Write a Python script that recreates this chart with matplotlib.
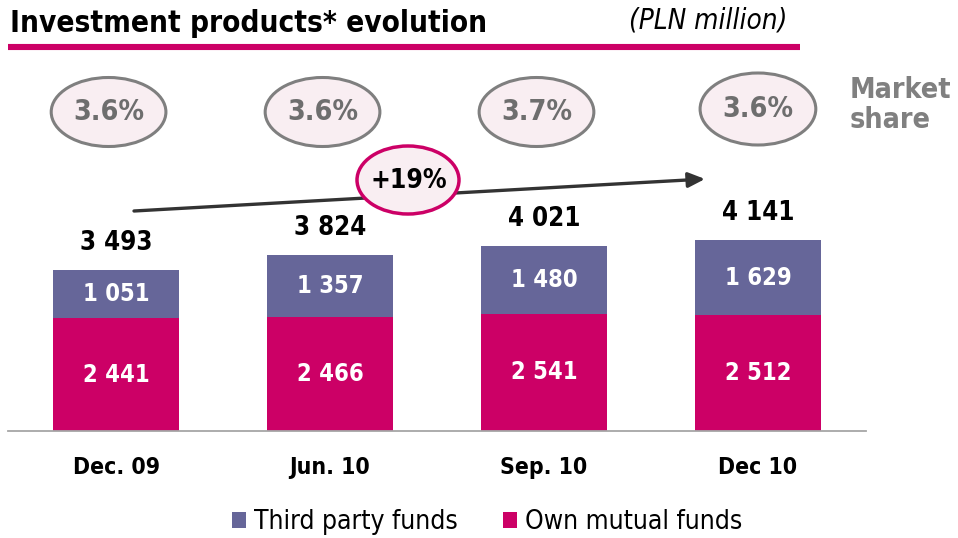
import numpy as np
import matplotlib.pyplot as plt
from matplotlib.patches import Ellipse
from matplotlib.transforms import blended_transform_factory

plt.rcParams['font.family'] = ['DejaVu Sans']
plt.rcParams['font.stretch'] = 'condensed'

# Data
categories = ['Dec. 09', 'Jun. 10', 'Sep. 10', 'Dec 10']
own_funds = [2441, 2466, 2541, 2512]
third_party = [1051, 1357, 1480, 1629]
totals = [3493, 3824, 4021, 4141]
market_share = ['3.6%', '3.6%', '3.7%', '3.6%']
growth_label = '+19%'

MAGENTA = '#CC0066'
PURPLE = '#666699'
GREY = '#7F7F7F'
PINK_FILL = '#F9EEF2'

W, H = 958, 538
fig = plt.figure(figsize=(W / 100, H / 100), dpi=100)

# Overlay axes in pixel units (origin top-left) for decorations
over = fig.add_axes([0, 0, 1, 1])
over.set_xlim(0, W)
over.set_ylim(H, 0)
over.axis('off')

# Bar axes
ax = fig.add_axes([8 / W, (H - 431) / H, (866 - 8) / W, (431 - 150) / H])
ax.set_xlim(-0.505, 3.505)
ax.set_ylim(0, 6095)
ax.patch.set_alpha(0)

x = np.arange(len(categories))
bw = 0.59
b_own = ax.bar(x, own_funds, bw, color=MAGENTA, label='Own mutual funds')
b_third = ax.bar(x, third_party, bw, bottom=own_funds, color=PURPLE,
                 label='Third party funds')

for i in range(len(categories)):
    ax.text(x[i], own_funds[i] / 2, f'{own_funds[i]:,}'.replace(',', ' '),
            ha='center', va='center', color='white', fontsize=17,
            fontweight='bold')
    ax.text(x[i], own_funds[i] + third_party[i] / 2,
            f'{third_party[i]:,}'.replace(',', ' '),
            ha='center', va='center', color='white', fontsize=17,
            fontweight='bold')
    ax.annotate(f'{totals[i]:,}'.replace(',', ' '), (x[i], totals[i]),
                xytext=(0, 19.5), textcoords='offset points',
                ha='center', va='center', fontsize=18.5, fontweight='bold',
                color='black')

for s in ['top', 'right', 'left']:
    ax.spines[s].set_visible(False)
ax.spines['bottom'].set_color('#A6A6A6')
ax.spines['bottom'].set_linewidth(1.3)
ax.set_yticks([])
ax.set_xticks(x, categories, fontsize=16.5, fontweight='bold')
ax.tick_params(axis='x', length=0, pad=18)

# Title and underline
over.text(10, 24, 'Investment products* evolution', fontsize=21.3,
          fontweight='bold', ha='left', va='center')
over.text(787, 20, '(PLN million)', fontsize=20, fontstyle='italic',
          ha='right', va='center')
over.plot([8, 800], [47, 47], color=MAGENTA, lw=4.4, solid_capstyle='butt')

# Market share ellipses
mix = blended_transform_factory(ax.transData, over.transData)
px = 1 / 214.5
for i, share in enumerate(market_share):
    w = 116 if i == 3 else 115
    h = 72 if i == 3 else 69
    cy = 109 if i == 3 else 112
    cx = x[i] - 0.035 if i < 3 else x[i]
    over.add_patch(Ellipse((cx, cy), w * px, h, transform=mix,
                           facecolor=PINK_FILL, edgecolor=GREY, lw=2.2))
    over.text(cx, cy, share, transform=mix, ha='center', va='center',
              fontsize=20.5, fontweight='bold', color='#6E6E6E')

over.text(850, 105, 'Market\nshare', ha='left', va='center', fontsize=20.5,
          fontweight='bold', color='#808080', linespacing=1.05)

# Growth arrow
over.annotate('', xy=(705, 179), xytext=(134, 211),
              arrowprops=dict(arrowstyle='-|>,head_length=1.0,head_width=0.45',
                              color='#333333', lw=2.4, shrinkA=0, shrinkB=0))
over.add_patch(Ellipse((408, 180), 102, 68, facecolor=PINK_FILL,
                       edgecolor=MAGENTA, lw=2.5, zorder=3))
over.text(409, 181, growth_label, ha='center', va='center', fontsize=19,
          fontweight='bold', color='black', zorder=4)

# Legend
fig.legend(handles=[b_third, b_own], labels=['Third party funds', 'Own mutual funds'],
           loc='center', bbox_to_anchor=(487 / W, 1 - 522 / H), ncol=2,
           frameon=False, fontsize=19, handlelength=0.55, handleheight=0.55,
           handletextpad=0.3, columnspacing=1.7)

fig.savefig('out.png', dpi=100)
